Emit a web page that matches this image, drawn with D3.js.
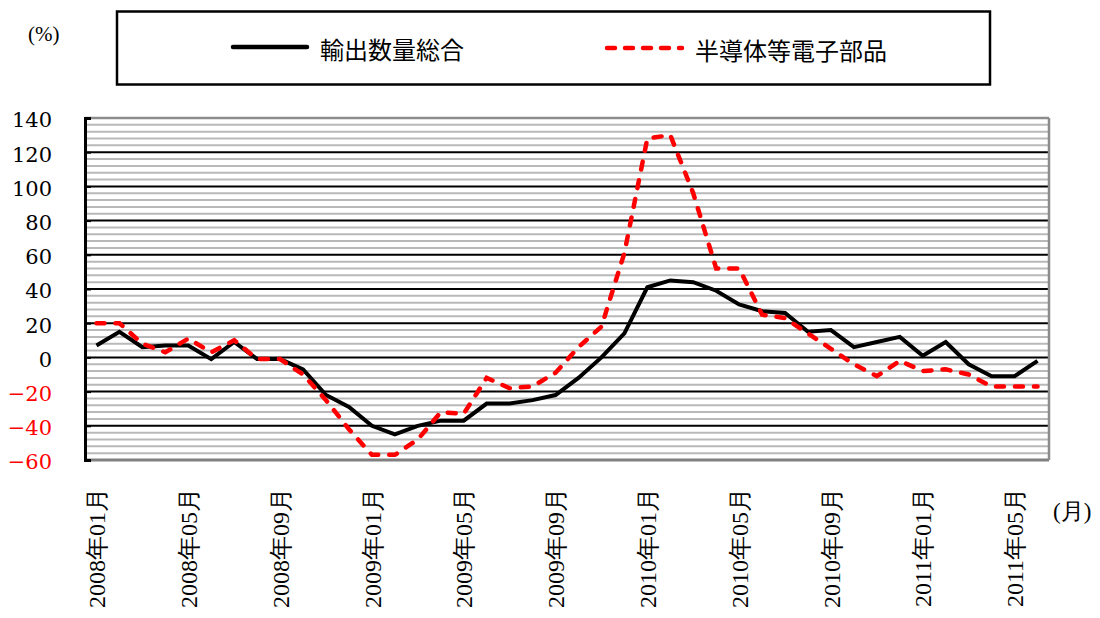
<!DOCTYPE html>
<html><head><meta charset="utf-8">
<script src="https://cdn.jsdelivr.net/npm/d3@7"></script>
<style>
html,body{margin:0;padding:0;background:#fff;}
svg{display:block;}
</style></head>
<body>
<svg id="chart" width="1100" height="618"></svg>
<script>
const categories = [
 "2008年01月","2008年02月","2008年03月","2008年04月","2008年05月","2008年06月","2008年07月","2008年08月","2008年09月","2008年10月","2008年11月","2008年12月",
 "2009年01月","2009年02月","2009年03月","2009年04月","2009年05月","2009年06月","2009年07月","2009年08月","2009年09月","2009年10月","2009年11月","2009年12月",
 "2010年01月","2010年02月","2010年03月","2010年04月","2010年05月","2010年06月","2010年07月","2010年08月","2010年09月","2010年10月","2010年11月","2010年12月",
 "2011年01月","2011年02月","2011年03月","2011年04月","2011年05月","2011年06月"
];
const exportTotal = [7,15,6,7,7,-1,9,-1,-1,-7,-22,-29,-40,-45,-40,-37,-37,-27,-27,-25,-22,-12,0,14,41,45,44,39,31,27,26,15,16,6,9,12,1,9,-4,-11,-11,-2];
const semiconductors = [20,20,8,3,11,3,10,-1,-1,-10,-25,-42,-57,-57,-48,-32,-33,-12,-18,-17,-9,6,18,61,128,130,96,52,52,25,23,14,5,-4,-11,-2,-8,-7,-10,-17,-17,-17];
const yTicks = [-60,-40,-20,0,20,40,60,80,100,120,140];
const xTickLabels = ["2008年01月","2008年05月","2008年09月","2009年01月","2009年05月","2009年09月","2010年01月","2010年05月","2010年09月","2011年01月","2011年05月"];
const seriesNames = ["輸出数量総合","半導体等電子部品"];

const svg = d3.select("#chart");
const L = 85, R = 1049, T = 118, B = 460;
const x = d3.scaleBand().domain(categories).range([L, R]).padding(0);
const xc = c => x(c) + x.bandwidth() / 2;
const y = d3.scaleLinear().domain([-60, 140]).range([B, T]);

const minor = d3.range(-56, 140, 4).filter(v => v % 20 !== 0);
svg.append("g").selectAll("line").data(minor).join("line")
  .attr("x1", L).attr("x2", R).attr("y1", d => y(d)).attr("y2", d => y(d))
  .attr("stroke", "#b9b9b9").attr("stroke-width", 2);
svg.append("g").selectAll("line").data(yTicks.filter(v => v > -60 && v < 140)).join("line")
  .attr("x1", L).attr("x2", R).attr("y1", d => y(d)).attr("y2", d => y(d))
  .attr("stroke", "#000").attr("stroke-width", 2);
svg.append("line").attr("x1", L).attr("x2", R).attr("y1", y(140)).attr("y2", y(140)).attr("stroke", "#8c8c8c").attr("stroke-width", 2.5);
svg.append("line").attr("x1", L).attr("x2", R).attr("y1", y(-60)).attr("y2", y(-60)).attr("stroke", "#808080").attr("stroke-width", 3);
svg.append("line").attr("x1", R).attr("x2", R).attr("y1", T).attr("y2", B).attr("stroke", "#8c8c8c").attr("stroke-width", 2.5);

const yAxis = d3.axisLeft(y).tickValues(yTicks).tickSize(-6).tickFormat("");
const ga = svg.append("g").attr("transform", `translate(${L},0)`).call(yAxis);
ga.select(".domain").attr("stroke", "#000").attr("stroke-width", 3);
ga.selectAll(".tick line").attr("stroke", "#000").attr("stroke-width", 2);

svg.append("g").selectAll("text").data(yTicks).join("text")
  .style("font-family", "'DejaVu Serif'")
  .attr("transform", d => `translate(52,${y(d) + 2})`)
  .attr("text-anchor", "end").attr("dy", "0.35em")
  .style("font-size", "21px")
  .attr("fill", d => d < 0 ? "#ff0000" : "#000")
  .text(d => d < 0 ? "−" + Math.abs(d) : d);

svg.append("g").selectAll("text").data(xTickLabels).join("text")
  .style("font-family", "'Liberation Serif'")
  .attr("transform", d => `translate(${xc(d)},488) rotate(-90)`)
  .attr("text-anchor", "end").attr("dy", "0.36em")
  .style("font-size", "24px")
  .attr("fill", "#000")
  .text(d => d);

const line = d3.line().x((d, i) => xc(categories[i])).y(d => y(d));
svg.append("path").datum(exportTotal).attr("d", line)
  .attr("fill", "none").attr("stroke", "#000").attr("stroke-width", 4).attr("stroke-linejoin", "miter");
svg.append("path").datum(semiconductors).attr("d", line)
  .attr("fill", "none").attr("stroke", "#ff0000").attr("stroke-width", 4.5)
  .attr("stroke-dasharray", "8 11").attr("stroke-linecap", "round");

svg.append("rect").attr("x", 117).attr("y", 11.5).attr("width", 873).attr("height", 73)
  .attr("fill", "#fff").attr("stroke", "#000").attr("stroke-width", 2.5);
svg.append("line").attr("x1", 233).attr("x2", 307).attr("y1", 47).attr("y2", 47)
  .attr("stroke", "#000").attr("stroke-width", 4.5).attr("stroke-linecap", "round");
svg.append("text").style("font-family", "'Noto Sans CJK JP'").attr("x", 320).attr("y", 51).attr("dy", "0.35em")
  .style("font-size", "24px").attr("fill", "#000").text(seriesNames[0]);
svg.append("line").attr("x1", 607).attr("x2", 682).attr("y1", 48).attr("y2", 48)
  .attr("stroke", "#ff0000").attr("stroke-width", 4.5).attr("stroke-linecap", "round")
  .attr("stroke-dasharray", "8 10");
svg.append("text").style("font-family", "'Noto Sans CJK JP'").attr("x", 695).attr("y", 52).attr("dy", "0.35em")
  .style("font-size", "24px").attr("fill", "#000").text(seriesNames[1]);

svg.append("text").style("font-family", "'Liberation Serif'").attr("x", 28).attr("y", 34).attr("dy", "0.35em")
  .style("font-size", "21px").attr("fill", "#000").text("(%)");
svg.append("text").style("font-family", "'Liberation Serif'").attr("x", 1053).attr("y", 511).attr("dy", "0.35em")
  .style("font-size", "23px").attr("fill", "#000").text("(月)");
</script>
</body></html>
